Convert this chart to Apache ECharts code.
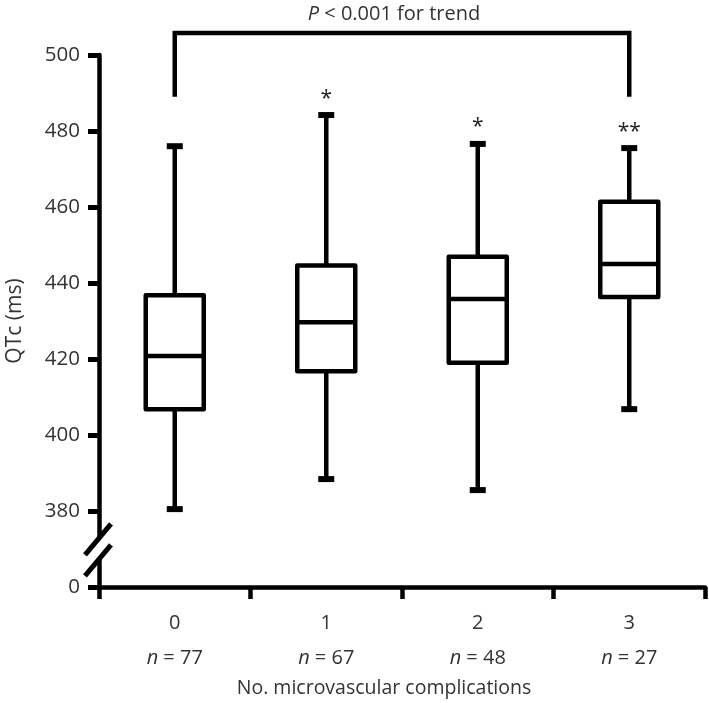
<!DOCTYPE html>
<html><head><meta charset="utf-8">
<script src="https://cdn.jsdelivr.net/npm/echarts@6/dist/echarts.min.js"></script>
<style>html,body{margin:0;padding:0;background:#fff}#c{width:709px;height:703px}</style>
</head><body><div id="c"></div>
<script>
// ---- data ----
const categories = ['0', '1', '2', '3'];
const groupN = [77, 67, 48, 27];
const whiskerLow = [380.5, 388.4, 385.5, 406.8];
const q1 = [406.8, 416.8, 419.0, 436.3];
const median = [420.8, 429.7, 435.8, 445.0];
const q3 = [436.8, 444.6, 446.9, 461.4];
const whiskerHigh = [476.0, 484.2, 476.6, 475.5];
const sigMarks = ['', '*', '*', '**'];
const yTickValues = [360, 380, 400, 420, 440, 460, 480, 500];
const yTickLabels = ['0', '380', '400', '420', '440', '460', '480', '500'];
const trendFrom = 0, trendTo = 3, trendLow = 489, trendHigh = 505.8;
const trendText = '{i|P} < 0.001 for trend';
const xTitle = 'No. microvascular complications';
const yTitle = 'QTc (ms)';

const FONT = 'Open Sans';
const TXT = '#333';
const LW = 4.5;

const boxData = categories.map((c, i) => [i, whiskerLow[i], q1[i], median[i], q3[i], whiskerHigh[i]]);

const chart = echarts.init(document.getElementById('c'), null, {renderer: 'canvas'});
const option = {
  animation: false,
  backgroundColor: '#fff',
  grid: {left: 99, right: 4, top: 55, bottom: 116, containLabel: false, outerBoundsMode: 'none'},
  xAxis: {
    type: 'category',
    data: categories,
    boundaryGap: true,
    axisLine: {lineStyle: {color: '#000', width: LW}},
    axisTick: {show: true, length: 12, lineStyle: {color: '#000', width: LW}},
    axisLabel: {
      margin: 18.5,
      formatter: (v, i) => '{c|' + v + '}\n{i|n}{c| = ' + groupN[i] + '}',
      rich: {
        c: {fontFamily: FONT, fontSize: 20, color: TXT, lineHeight: 35},
        i: {fontFamily: FONT, fontSize: 20, color: TXT, lineHeight: 35, fontStyle: 'italic'}
      }
    },
    name: xTitle,
    nameLocation: 'middle',
    nameGap: 91,
    nameTextStyle: {fontFamily: FONT, fontSize: 19.5, color: TXT, padding: [0, 36, 0, 0]}
  },
  yAxis: {
    type: 'value',
    min: yTickValues[0],
    max: yTickValues[yTickValues.length - 1],
    interval: 20,
    splitLine: {show: false},
    axisLine: {show: true, lineStyle: {color: '#000', width: LW}},
    axisTick: {show: true, length: 11, lineStyle: {color: '#000', width: 5}},
    axisLabel: {
      margin: 19,
      fontFamily: FONT, fontSize: 20.5, color: TXT,
      formatter: v => yTickLabels[yTickValues.indexOf(v)]
    },
    name: yTitle,
    nameLocation: 'middle',
    nameRotate: 90,
    nameGap: 73,
    nameTextStyle: {fontFamily: FONT, fontSize: 21, color: TXT}
  },
  series: [
    {
      type: 'custom',
      data: boxData,
      encode: {x: 0, y: [1, 2, 3, 4, 5]},
      clip: false,
      renderItem: function (params, api) {
        const x = api.value(0);
        const lo = api.coord([x, api.value(1)]);
        const b1 = api.coord([x, api.value(2)]);
        const md = api.coord([x, api.value(3)]);
        const b3 = api.coord([x, api.value(4)]);
        const hi = api.coord([x, api.value(5)]);
        const cx = lo[0];
        const hw = 29;
        const ls = {stroke: '#000', lineWidth: LW, fill: null};
        return {
          type: 'group',
          children: [
            {type: 'line', shape: {x1: cx, y1: hi[1], x2: cx, y2: b3[1]}, style: ls},
            {type: 'line', shape: {x1: cx, y1: b1[1], x2: cx, y2: lo[1]}, style: ls},
            {type: 'rect', shape: {x: cx - 8, y: hi[1] - 3, width: 16, height: 6}, style: {fill: '#000'}},
            {type: 'rect', shape: {x: cx - 8, y: lo[1] - 3, width: 16, height: 6}, style: {fill: '#000'}},
            {type: 'rect', shape: {x: cx - hw, y: b3[1], width: hw * 2, height: b1[1] - b3[1]},
              style: {fill: '#fff', stroke: '#000', lineWidth: LW, lineJoin: 'round'}},
            {type: 'line', shape: {x1: cx - hw, y1: md[1], x2: cx + hw, y2: md[1]}, style: ls},
            {type: 'text', style: {text: sigMarks[params.dataIndex], x: cx, y: hi[1] - 27,
              align: 'center', verticalAlign: 'top', fontFamily: FONT, fontSize: 21, fill: '#222'}}
          ]
        };
      }
    },
    {
      type: 'custom',
      data: [[trendFrom, trendTo, trendLow, trendHigh]],
      encode: {x: [0, 1], y: [2, 3]},
      clip: false,
      renderItem: function (params, api) {
        const a = api.coord([api.value(0), api.value(2)]);
        const b = api.coord([api.value(0), api.value(3)]);
        const c = api.coord([api.value(1), api.value(3)]);
        const d = api.coord([api.value(1), api.value(2)]);
        return {
          type: 'group',
          children: [
            {type: 'polyline', shape: {points: [a, b, c, d]},
              style: {stroke: '#000', lineWidth: LW, fill: null, lineJoin: 'miter'}},
            {type: 'text', style: {text: trendText, x: (b[0] + c[0]) / 2 - 8, y: b[1] - 19,
              align: 'center', verticalAlign: 'middle', fontFamily: FONT, fontSize: 20, fill: TXT,
              rich: {i: {fontFamily: FONT, fontSize: 20, fill: TXT, fontStyle: 'italic'}}}}
          ]
        };
      }
    }
  ]
};
chart.setOption(option);

// axis break marks on the y axis
const gridRect = chart.getModel().getComponent('grid', 0).coordinateSystem.getRect();
const axX = gridRect.x;
const yA = chart.convertToPixel({yAxisIndex: 0}, 372.9);
const yB = chart.convertToPixel({yAxisIndex: 0}, 367.4);
const slash = (c) => ({type: 'line', shape: {x1: axX - 14, y1: c + 17, x2: axX + 12, y2: c - 14},
  style: {stroke: '#000', lineWidth: 5}, z: 100});
chart.setOption({
  graphic: [
    {type: 'rect', shape: {x: axX - 4, y: yA, width: 8, height: yB - yA}, style: {fill: '#fff'}, z: 99},
    slash(yA), slash(yB)
  ]
});
</script></body></html>
